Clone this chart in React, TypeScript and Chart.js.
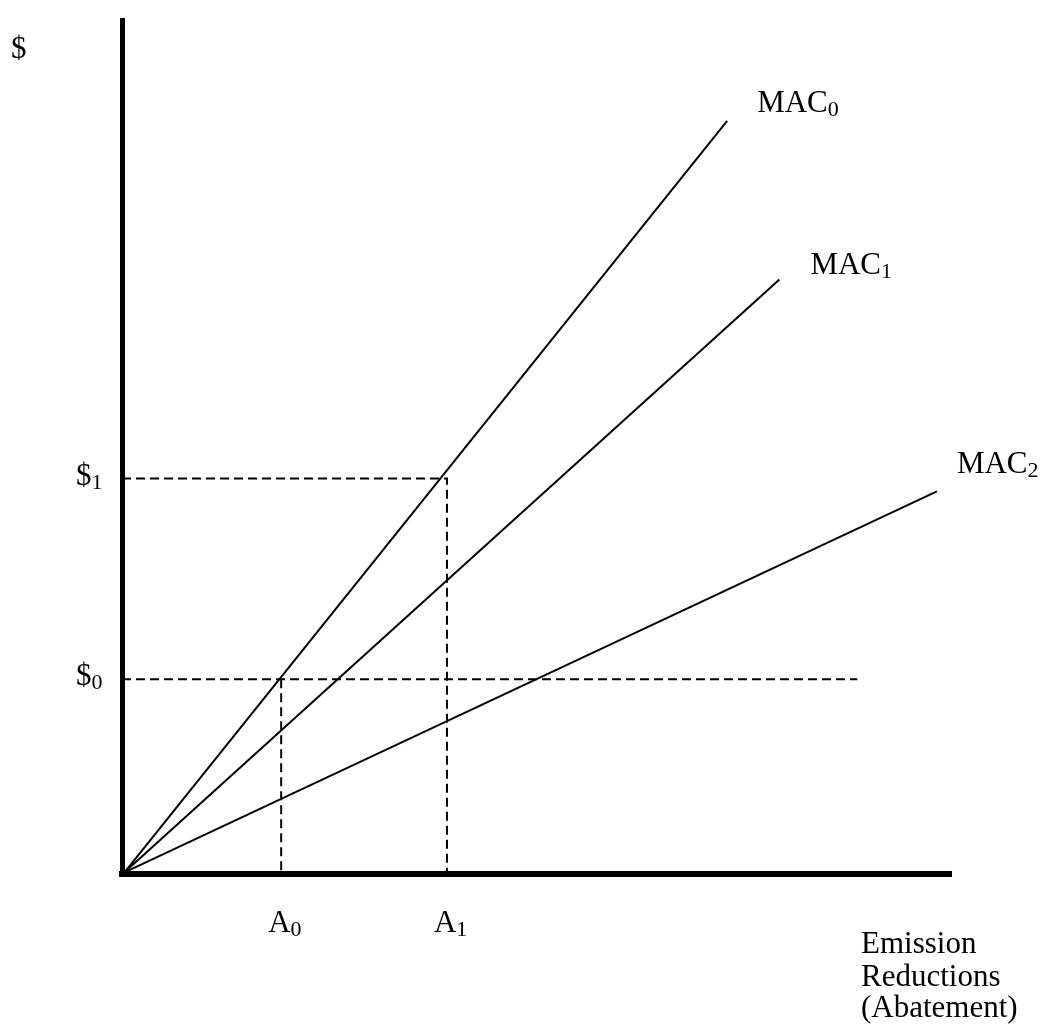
import React, { useEffect, useRef } from "react";
import { Chart, registerables } from "chart.js";

Chart.register(...registerables);

// ---- Data (axis units 0..100) ----
const macLabels = ["MAC0", "MAC1", "MAC2"];
const macEndX = [73.0, 79.3, 98.3];
const macEndY = [88.2, 69.6, 44.8];
const abatementLabels = ["A0", "A1"];
const abatementLevels = [19.2, 39.2];
const priceLabels = ["$0", "$1"];
const priceLevels = [22.8, 46.3];
const price0LineEndX = 88.7;
const yAxisLabel = "$";
const xAxisLabelLines = ["Emission", "Reductions", "(Abatement)"];

// ---- Style ----
const FONT = '"Liberation Serif", "Times New Roman", serif';
const MAIN_SIZE = 31;
const SUB_SIZE = 22;
const macLabelOffsets = [
  [30, -9],
  [31, -6],
  [20, -18],
];

function drawSubText(ctx: CanvasRenderingContext2D, text: string, x: number, y: number) {
  const base = text.slice(0, -1);
  const sub = text.slice(-1);
  ctx.font = `${MAIN_SIZE}px ${FONT}`;
  ctx.fillText(base, x, y);
  const w = ctx.measureText(base).width;
  ctx.font = `${SUB_SIZE}px ${FONT}`;
  ctx.fillText(sub, x + w, y + 4);
}

const labelsPlugin = {
  id: "diagramLabels",
  afterDatasetsDraw(chart: any) {
    const { ctx, chartArea, scales } = chart;
    const xs = scales.x;
    const ys = scales.y;
    ctx.save();
    ctx.fillStyle = "#000";
    ctx.textAlign = "left";
    ctx.textBaseline = "alphabetic";

    // y axis label
    ctx.font = `${MAIN_SIZE}px ${FONT}`;
    ctx.fillText(yAxisLabel, chartArea.left - 111, chartArea.top + 38);

    // price labels
    priceLabels.forEach((lab, i) => {
      const py = ys.getPixelForValue(priceLevels[i]);
      drawSubText(ctx, lab, chartArea.left - 46, py + 6);
    });

    // abatement labels
    abatementLabels.forEach((lab, i) => {
      const px = xs.getPixelForValue(abatementLevels[i]);
      drawSubText(ctx, lab, px - 13, chartArea.bottom + 58);
    });

    // MAC labels
    macLabels.forEach((lab, i) => {
      const px = xs.getPixelForValue(macEndX[i]);
      const py = ys.getPixelForValue(macEndY[i]);
      drawSubText(ctx, lab, px + macLabelOffsets[i][0], py + macLabelOffsets[i][1]);
    });

    // x axis label
    ctx.font = `${MAIN_SIZE}px ${FONT}`;
    const lineYs = [79, 112, 143];
    xAxisLabelLines.forEach((t, i) => {
      ctx.fillText(t, chartArea.right - 90, chartArea.bottom + lineYs[i]);
    });
    ctx.restore();
  },
};

export default function App() {
  const canvasRef = useRef<HTMLCanvasElement | null>(null);

  useEffect(() => {
    if (!canvasRef.current) return;

    const macDatasets = macLabels.map((lab, i) => ({
      label: lab,
      data: [
        { x: 0.3, y: 0.2 },
        { x: macEndX[i], y: macEndY[i] },
      ],
      showLine: true,
      borderColor: "#000",
      borderWidth: 2,
      pointRadius: 0,
      fill: false,
    }));

    const dashStyle = {
      showLine: true,
      borderColor: "#000",
      borderWidth: 2,
      borderDash: [9, 5],
      pointRadius: 0,
      fill: false,
    };

    const dashedDatasets = [
      {
        label: "p1",
        data: [
          { x: 0, y: priceLevels[1] },
          { x: abatementLevels[1], y: priceLevels[1] },
          { x: abatementLevels[1], y: 0 },
        ],
        ...dashStyle,
      },
      {
        label: "p0",
        data: [
          { x: 0, y: priceLevels[0] },
          { x: price0LineEndX, y: priceLevels[0] },
        ],
        ...dashStyle,
      },
      {
        label: "a0",
        data: [
          { x: abatementLevels[0], y: priceLevels[0] },
          { x: abatementLevels[0], y: 0 },
        ],
        ...dashStyle,
      },
    ];

    const chart = new Chart(canvasRef.current, {
      type: "scatter",
      data: { datasets: [...dashedDatasets, ...macDatasets] as any },
      options: {
        animation: false,
        responsive: true,
        maintainAspectRatio: false,
        layout: { padding: { left: 122, right: 91, top: 20, bottom: 156 } },
        plugins: { legend: { display: false }, tooltip: { enabled: false } },
        events: [],
        scales: {
          x: {
            type: "linear",
            min: 0,
            max: 100,
            grid: { display: false },
            ticks: { display: false },
            border: { display: true, width: 6, color: "#000" },
            afterFit: (s: any) => {
              s.height = 0;
            },
          },
          y: {
            type: "linear",
            min: 0,
            max: 100,
            grid: { display: false },
            ticks: { display: false },
            border: { display: true, width: 5, color: "#000" },
            afterFit: (s: any) => {
              s.width = 0;
            },
          },
        },
      } as any,
      plugins: [labelsPlugin],
    });

    return () => chart.destroy();
  }, []);

  return (
    <div
      style={{
        position: "absolute",
        left: 0,
        top: 0,
        width: 1042,
        height: 1030,
        background: "#fff",
        overflow: "hidden",
      }}
    >
      <canvas ref={canvasRef} />
    </div>
  );
}
